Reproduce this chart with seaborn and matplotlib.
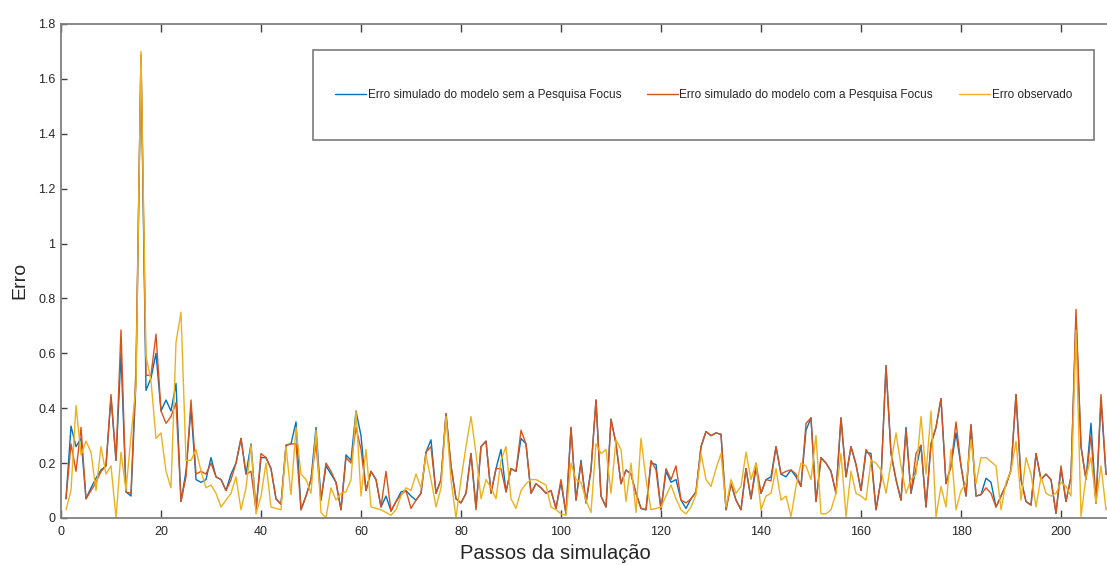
import numpy as np
import pandas as pd
import matplotlib
matplotlib.use("Agg")
import matplotlib.pyplot as plt
from matplotlib.patches import Rectangle
from matplotlib.lines import Line2D
from matplotlib.ticker import FuncFormatter
import seaborn as sns

# ---------------- data ----------------
steps = list(range(1, 211))

erro_com_focus = [
    0.07, 0.27, 0.17, 0.33, 0.07, 0.10, 0.13, 0.17, 0.19, 0.45,
    0.21, 0.685, 0.095, 0.09, 0.55, 1.69, 0.52, 0.52, 0.67, 0.39,
    0.345, 0.37, 0.42, 0.06, 0.15, 0.43, 0.16, 0.17, 0.16, 0.20,
    0.15, 0.14, 0.10, 0.14, 0.20, 0.29, 0.16, 0.17, 0.03, 0.235,
    0.22, 0.18, 0.07, 0.05, 0.265, 0.27, 0.27, 0.03, 0.08, 0.14,
    0.27, 0.065, 0.20, 0.17, 0.13, 0.03, 0.22, 0.20, 0.33, 0.25,
    0.10, 0.17, 0.14, 0.04, 0.17, 0.025, 0.06, 0.085, 0.10, 0.035,
    0.065, 0.09, 0.24, 0.26, 0.09, 0.14, 0.38, 0.19, 0.07, 0.055,
    0.09, 0.235, 0.03, 0.26, 0.28, 0.09, 0.18, 0.18, 0.095, 0.18,
    0.17, 0.32, 0.27, 0.09, 0.125, 0.11, 0.09, 0.10, 0.035, 0.14,
    0.015, 0.33, 0.065, 0.20, 0.055, 0.175, 0.43, 0.08, 0.04, 0.36,
    0.27, 0.125, 0.175, 0.16, 0.09, 0.035, 0.03, 0.21, 0.175, 0.03,
    0.18, 0.14, 0.19, 0.065, 0.055, 0.07, 0.095, 0.26, 0.315, 0.30,
    0.31, 0.305, 0.03, 0.125, 0.065, 0.03, 0.18, 0.07, 0.20, 0.09,
    0.14, 0.135, 0.26, 0.16, 0.17, 0.175, 0.16, 0.115, 0.345, 0.365,
    0.06, 0.22, 0.20, 0.17, 0.09, 0.365, 0.15, 0.26, 0.195, 0.10,
    0.25, 0.22, 0.03, 0.14, 0.555, 0.235, 0.14, 0.065, 0.32, 0.09,
    0.235, 0.265, 0.04, 0.27, 0.33, 0.435, 0.125, 0.19, 0.35, 0.19,
    0.08, 0.34, 0.08, 0.085, 0.11, 0.09, 0.04, 0.08, 0.12, 0.175,
    0.45, 0.14, 0.06, 0.047, 0.235, 0.14, 0.16, 0.14, 0.017, 0.19,
    0.06, 0.15, 0.76, 0.26, 0.14, 0.30, 0.053, 0.45, 0.16, 0.15,
]

erro_sem_focus = [
    0.07, 0.335, 0.26, 0.29, 0.07, 0.11, 0.145, 0.175, 0.19, 0.44,
    0.21, 0.60, 0.095, 0.08, 0.50, 1.68, 0.465, 0.51, 0.60, 0.39,
    0.43, 0.39, 0.49, 0.06, 0.17, 0.40, 0.14, 0.13, 0.14, 0.22,
    0.15, 0.14, 0.10, 0.16, 0.20, 0.29, 0.16, 0.27, 0.03, 0.22,
    0.22, 0.18, 0.07, 0.05, 0.265, 0.27, 0.35, 0.03, 0.08, 0.14,
    0.33, 0.065, 0.19, 0.16, 0.13, 0.03, 0.23, 0.21, 0.39, 0.30,
    0.10, 0.17, 0.14, 0.04, 0.08, 0.025, 0.06, 0.095, 0.10, 0.08,
    0.065, 0.09, 0.24, 0.285, 0.09, 0.14, 0.38, 0.19, 0.07, 0.055,
    0.09, 0.235, 0.04, 0.26, 0.28, 0.09, 0.18, 0.25, 0.095, 0.18,
    0.17, 0.29, 0.27, 0.09, 0.125, 0.11, 0.09, 0.10, 0.035, 0.13,
    0.015, 0.33, 0.065, 0.21, 0.055, 0.175, 0.43, 0.08, 0.04, 0.36,
    0.27, 0.125, 0.175, 0.16, 0.09, 0.035, 0.03, 0.20, 0.195, 0.03,
    0.17, 0.13, 0.14, 0.065, 0.035, 0.07, 0.095, 0.26, 0.315, 0.30,
    0.31, 0.305, 0.03, 0.125, 0.065, 0.03, 0.18, 0.07, 0.18, 0.09,
    0.14, 0.15, 0.26, 0.16, 0.15, 0.175, 0.15, 0.115, 0.32, 0.365,
    0.06, 0.22, 0.20, 0.17, 0.09, 0.365, 0.15, 0.26, 0.195, 0.10,
    0.24, 0.235, 0.03, 0.14, 0.555, 0.235, 0.14, 0.065, 0.33, 0.09,
    0.18, 0.265, 0.04, 0.27, 0.33, 0.435, 0.125, 0.19, 0.31, 0.19,
    0.08, 0.34, 0.08, 0.085, 0.145, 0.13, 0.04, 0.08, 0.12, 0.175,
    0.45, 0.14, 0.06, 0.047, 0.235, 0.14, 0.16, 0.14, 0.017, 0.18,
    0.06, 0.15, 0.73, 0.26, 0.14, 0.345, 0.053, 0.43, 0.16, 0.16,
]

erro_observado = [
    0.03, 0.10, 0.41, 0.23, 0.28, 0.24, 0.10, 0.26, 0.16, 0.19,
    0.00, 0.24, 0.10, 0.30, 0.48, 1.70, 0.59, 0.50, 0.29, 0.31,
    0.17, 0.11, 0.64, 0.75, 0.21, 0.21, 0.25, 0.17, 0.11, 0.12,
    0.09, 0.04, 0.065, 0.09, 0.15, 0.03, 0.11, 0.265, 0.015, 0.08,
    0.20, 0.04, 0.035, 0.03, 0.26, 0.085, 0.33, 0.16, 0.14, 0.09,
    0.32, 0.02, 0.00, 0.11, 0.065, 0.09, 0.095, 0.14, 0.39, 0.08,
    0.25, 0.04, 0.035, 0.03, 0.02, 0.01, 0.03, 0.08, 0.11, 0.10,
    0.16, 0.11, 0.23, 0.14, 0.04, 0.11, 0.37, 0.14, 0.00, 0.14,
    0.26, 0.37, 0.235, 0.07, 0.14, 0.11, 0.07, 0.21, 0.26, 0.07,
    0.035, 0.10, 0.125, 0.14, 0.14, 0.13, 0.12, 0.04, 0.03, 0.015,
    0.01, 0.20, 0.14, 0.13, 0.065, 0.02, 0.27, 0.235, 0.25, 0.09,
    0.285, 0.25, 0.06, 0.20, 0.02, 0.29, 0.14, 0.03, 0.035, 0.04,
    0.08, 0.12, 0.07, 0.03, 0.015, 0.04, 0.085, 0.235, 0.14, 0.115,
    0.18, 0.235, 0.04, 0.14, 0.09, 0.115, 0.24, 0.14, 0.20, 0.03,
    0.08, 0.09, 0.18, 0.065, 0.08, 0.005, 0.115, 0.20, 0.19, 0.14,
    0.30, 0.015, 0.015, 0.03, 0.09, 0.235, 0.005, 0.17, 0.09, 0.08,
    0.065, 0.21, 0.20, 0.175, 0.09, 0.20, 0.31, 0.19, 0.09, 0.14,
    0.16, 0.37, 0.16, 0.39, 0.005, 0.115, 0.04, 0.25, 0.03, 0.10,
    0.125, 0.285, 0.125, 0.22, 0.22, 0.205, 0.19, 0.03, 0.13, 0.17,
    0.28, 0.065, 0.22, 0.16, 0.04, 0.15, 0.09, 0.08, 0.09, 0.13,
    0.115, 0.08, 0.685, 0.005, 0.15, 0.22, 0.053, 0.19, 0.03, 0.06,
]

series_names = [
    "Erro simulado do modelo sem a Pesquisa Focus",
    "Erro simulado do modelo com a Pesquisa Focus",
    "Erro observado",
]
colors = ["#0072BD", "#D95319", "#EDB120"]
x_ticks = [0, 20, 40, 60, 80, 100, 120, 140, 160, 180, 200]
y_ticks = [0, 0.2, 0.4, 0.6, 0.8, 1.0, 1.2, 1.4, 1.6, 1.8]

df = pd.DataFrame({
    "Passos": steps * 3,
    "Erro": erro_sem_focus + erro_com_focus + erro_observado,
    "Série": [series_names[0]] * len(steps)
             + [series_names[1]] * len(steps)
             + [series_names[2]] * len(steps),
})

# ---------------- styling ----------------
sns.set_style("white")
plt.rcParams["font.family"] = ["Liberation Sans", "DejaVu Sans"]

W, H = 1107, 565
fig = plt.figure(figsize=(W / 100, H / 100), dpi=100)
# axes extends past the right border of the picture (the reference is cropped)
ax = fig.add_axes([61 / W, (H - 518) / H, 1100 / W, 494 / H])

sns.lineplot(data=df, x="Passos", y="Erro", hue="Série", palette=colors,
             hue_order=series_names, estimator=None, linewidth=1.0,
             legend=False, ax=ax)

ax.set_xlim(0, 220)
ax.set_ylim(0, 1.8)
ax.set_xticks(x_ticks)
ax.set_yticks(y_ticks)
ax.yaxis.set_major_formatter(FuncFormatter(lambda v, p: f"{v:g}"))

spine_col = "#808080"
for side in ["left", "bottom", "top"]:
    ax.spines[side].set_visible(True)
    ax.spines[side].set_color(spine_col)
    ax.spines[side].set_linewidth(1.3)
ax.spines["right"].set_visible(False)

ax.tick_params(axis="x", direction="in", length=6, width=1.0, color="#404040",
               top=True, bottom=True, labelsize=9, labelcolor="#262626", pad=6)
ax.tick_params(axis="y", direction="in", length=4, width=1.0, color="#404040",
               left=True, labelsize=9, labelcolor="#262626", pad=4)

ax.set_xlabel("Passos da simulação", fontsize=14.5, color="#262626")
ax.set_ylabel("Erro", fontsize=14, color="#262626")
ax.xaxis.set_label_coords((555 - 61) / 1100, -0.052)
ax.yaxis.set_label_coords(-0.030, 0.48)
ax.grid(False)

# legend box
bx0, bx1, by0, by1 = 313, 1094, 50, 140
fig.patches.append(Rectangle((bx0 / W, (H - by1) / H), (bx1 - bx0) / W,
                             (by1 - by0) / H, transform=fig.transFigure,
                             facecolor="white", edgecolor="#7a7a7a",
                             linewidth=1.2, zorder=5))
handles = [Line2D([0], [0], color=c, lw=1.0) for c in colors]
leg = fig.legend(handles, series_names, loc="center",
                 bbox_to_anchor=((bx0 + bx1) / 2 / W, (H - 95) / H),
                 ncol=3, frameon=False, fontsize=8.5, handlelength=2.6,
                 handletextpad=0.15, columnspacing=2.2)
leg.set_zorder(6)
for t in leg.get_texts():
    t.set_color("#262626")

fig.savefig("out.png", dpi=100)
